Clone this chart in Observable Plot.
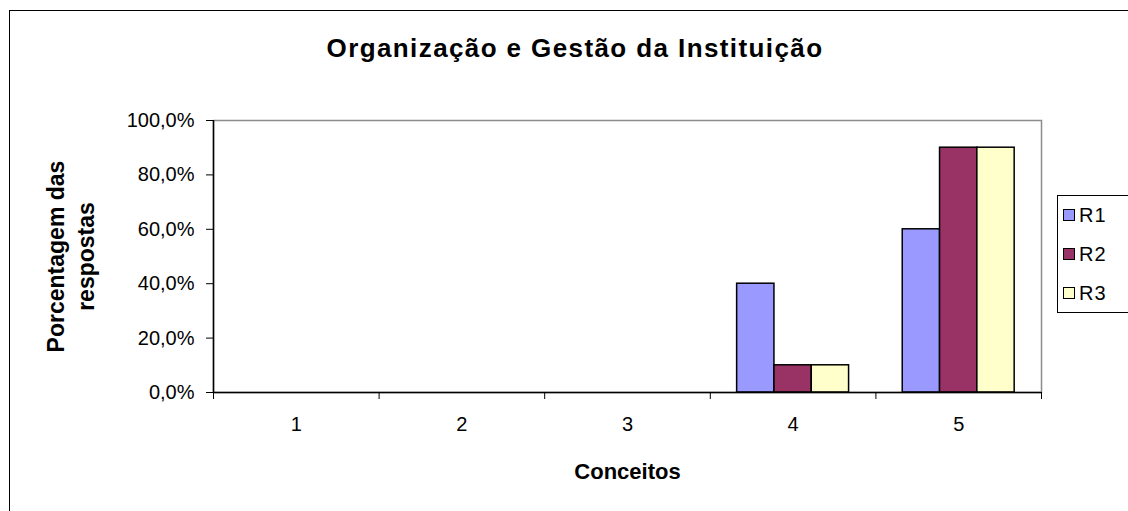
<!DOCTYPE html>
<html>
<head>
<meta charset="utf-8">
<script src="https://cdn.jsdelivr.net/npm/d3@7"></script>
<script src="https://cdn.jsdelivr.net/npm/@observablehq/plot@0.6"></script>
<style>
  html, body { margin: 0; padding: 0; background: #fff; }
  #wrap { position: relative; width: 1128px; height: 511px; overflow: hidden; background: #fff;
          font-family: "Liberation Sans", Arial, sans-serif; }
  #outer { position: absolute; left: 9px; top: 10px; width: 1300px; height: 700px;
           border: 1.5px solid #000; box-sizing: border-box; }
  #title { position: absolute; left: 0; top: 0; width: 1150px; height: 90px; line-height: 96px;
           text-align: center; font-weight: bold; font-size: 26px; letter-spacing: 1.4px; color: #000; }
  #chart { position: absolute; left: 0; top: 90px; }
  #legend { position: absolute; left: 1057px; top: 195px; width: 100px; height: 118px;
            border: 1px solid #000; box-sizing: border-box; background: #fff; }
  .item { position: absolute; left: 5px; font-size: 20px; line-height: 22px; height: 22px; letter-spacing: 1px; }
  .sw { position: absolute; left: 0; top: 5px; width: 12px; height: 12px; border: 1.5px solid #000; box-sizing: border-box; }
  .lab { position: absolute; left: 16px; top: 0; white-space: nowrap; }
</style>
</head>
<body>
<div id="wrap">
  <div id="outer"></div>
  <div id="title"></div>
  <div id="chart"></div>
  <div id="legend"></div>
</div>
<script>
const title = "Organização e Gestão da Instituição";
const xLabel = "Conceitos";
const yLabel = "Porcentagem das\nrespostas";
const concepts = [1, 2, 3, 4, 5];
const seriesNames = ["R1", "R2", "R3"];
const seriesColors = ["#9999FF", "#993366", "#FFFFCC"];
const R1 = [0, 0, 0, 0.40, 0.60];
const R2 = [0, 0, 0, 0.10, 0.90];
const R3 = [0, 0, 0, 0.10, 0.90];
const yTicks = [0, 0.2, 0.4, 0.6, 0.8, 1.0];

const seriesValues = [R1, R2, R3];
const rows = [];
concepts.forEach((c, i) => {
  seriesNames.forEach((s, j) => {
    rows.push({concept: c, series: s, idx: j, value: seriesValues[j][i]});
  });
});
const groupWidth = 0.676;
const barW = groupWidth / seriesNames.length;

document.getElementById("title").textContent = title;

const fmt = d => (d * 100).toFixed(1).replace(".", ",") + "%";

const chart = Plot.plot({
  width: 1128,
  height: 421,
  marginLeft: 213,
  marginRight: 87,
  marginTop: 30,
  marginBottom: 119,
  style: {fontFamily: "Liberation Sans, Arial, sans-serif", fontSize: "20px", color: "#000", background: "transparent"},
  x: {type: "linear", domain: [0.5, 5.5], axis: null},
  y: {domain: [0, 1], axis: null},
  color: {domain: seriesNames, range: seriesColors},
  marks: [
    Plot.frame({stroke: "#8c8c8c", strokeWidth: 1.5}),
    Plot.rectY(rows.filter(d => d.value > 0), {
      x1: d => d.concept - groupWidth / 2 + d.idx * barW,
      x2: d => d.concept - groupWidth / 2 + (d.idx + 1) * barW,
      y1: 0, y2: "value",
      fill: "series", stroke: "#000", strokeWidth: 1.5
    }),
    Plot.axisY({ticks: yTicks, tickFormat: fmt, tickSize: 7, tickPadding: 12, label: null,
                stroke: "#000", fontSize: 20, letterSpacing: 1.2}),
    Plot.ruleX([0.5], {stroke: "#000", strokeWidth: 1.5}),
    Plot.ruleY([0], {stroke: "#000", strokeWidth: 1.5}),
    Plot.axisX({ticks: d3.range(0.5, 6, 1), tickFormat: () => "", tickSize: 7, label: null, stroke: "#000"}),
    Plot.axisX({ticks: concepts, tickFormat: d => String(d), tickSize: 0, tickPadding: 24, label: null, fontSize: 20}),
    Plot.text([xLabel], {frameAnchor: "bottom", dy: 79, fontWeight: "bold", fontSize: 22, letterSpacing: 2,
                         fill: "#000", lineAnchor: "middle", textAnchor: "middle"}),
    Plot.text([yLabel], {frameAnchor: "left", dx: -144, rotate: -90, fontWeight: "bold", fontSize: 23, letterSpacing: 2,
                         fill: "#000", lineAnchor: "middle", textAnchor: "middle", lineHeight: 1.3})
  ]
});
document.getElementById("chart").appendChild(chart);

const legend = document.getElementById("legend");
seriesNames.forEach((s, j) => {
  const it = document.createElement("div");
  it.className = "item";
  it.style.top = (8 + j * 39) + "px";
  const sw = document.createElement("div");
  sw.className = "sw";
  sw.style.background = seriesColors[j];
  const lab = document.createElement("div");
  lab.className = "lab";
  lab.textContent = s;
  it.appendChild(sw);
  it.appendChild(lab);
  legend.appendChild(it);
});
</script>
</body>
</html>
